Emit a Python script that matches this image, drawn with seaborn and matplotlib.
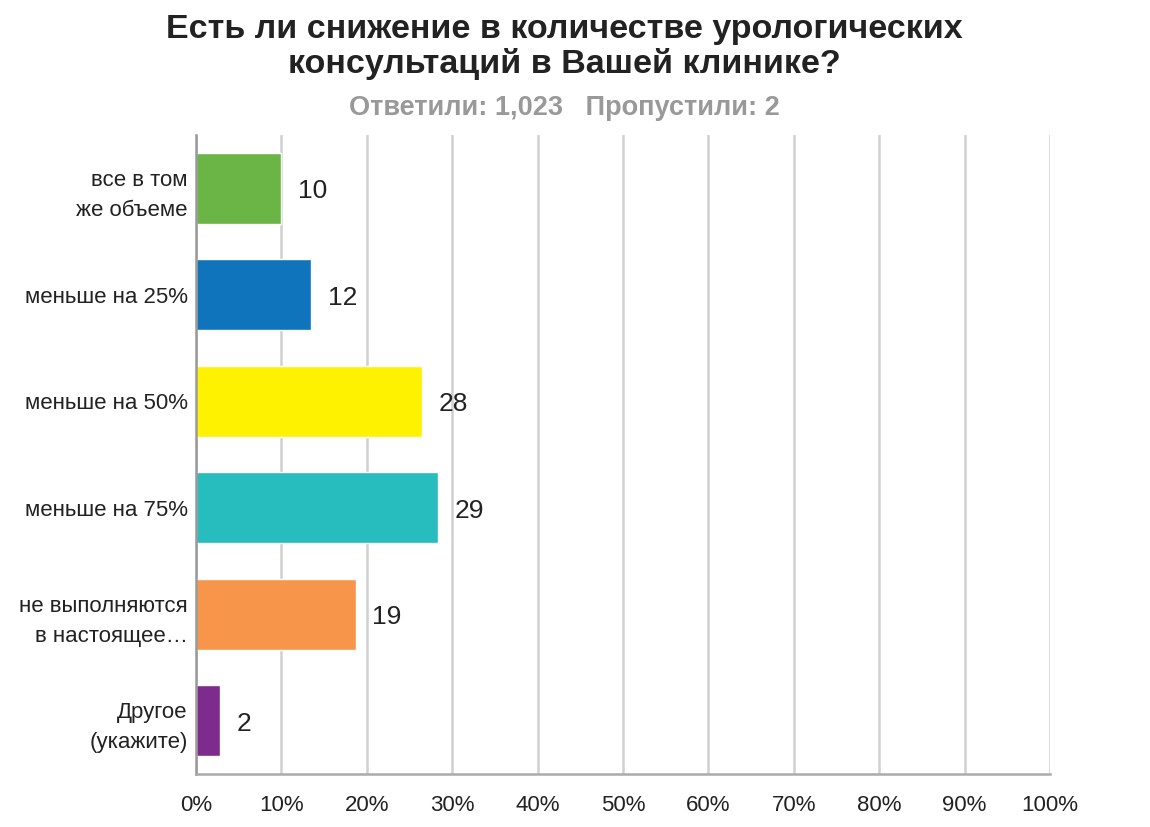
import matplotlib
matplotlib.use("Agg")
import matplotlib.pyplot as plt
import seaborn as sns
import pandas as pd

# Survey answers (bar lengths, labels as printed)
categories = [
    "все в том\nже объеме",
    "меньше на 25%",
    "меньше на 50%",
    "меньше на 75%",
    "не выполняются\nв настоящее…",
    "Другое\n(укажите)",
]
percent = [10.0, 13.5, 26.5, 28.3, 18.7, 2.8]
value_labels = ["10", "12", "28", "29", "19", "2"]
colors = ["#6ab545", "#1074bc", "#fff200", "#27bdbe", "#f7964a", "#7e2b8e"]
x_ticks = list(range(0, 101, 10))
x_tick_labels = [f"{t}%" for t in x_ticks]

title = "Есть ли снижение в количестве урологических\nконсультаций в Вашей клинике?"
subtitle = "Ответили: 1,023   Пропустили: 2"

sns.set_style("white")
plt.rcParams['font.family'] = ['Liberation Sans', 'DejaVu Sans']

df = pd.DataFrame({"category": categories, "percent": percent})

fig = plt.figure(figsize=(11.5, 8.27), dpi=100)
ax = fig.add_axes([196 / 1150, 1 - 774 / 827, 854 / 1150, 639 / 827])

sns.barplot(data=df, y="category", x="percent", hue="category",
            palette=colors, orient="h", width=0.67, legend=False,
            saturation=1, ax=ax)

ax.set_xlim(0, 100)
ax.set_ylim(len(categories) - 0.5, -0.5)
ax.set_xticks(x_ticks)
ax.set_xticklabels(x_tick_labels, fontsize=16, color="#222222")
ax.tick_params(axis="x", length=0, pad=15)
ax.tick_params(axis="y", length=0, pad=6)
for lbl in ax.get_yticklabels():
    lbl.set_fontsize(16)
    lbl.set_color("#222222")
    lbl.set_multialignment("right")
    lbl.set_linespacing(1.55)
ax.set_xlabel("")
ax.set_ylabel("")

ax.grid(axis="x", color="#d0d0d0", linewidth=1.8)
ax.set_axisbelow(True)
for side in ["top", "right"]:
    ax.spines[side].set_visible(False)
ax.spines["left"].set_color("#999999")
ax.spines["left"].set_linewidth(1.8)
ax.spines["bottom"].set_color("#aaaaaa")
ax.spines["bottom"].set_linewidth(1.8)

for i, (p, lab) in enumerate(zip(percent, value_labels)):
    ax.annotate(lab, xy=(p, i), xytext=(12, -2), textcoords="offset points",
                ha="left", va="center", fontsize=19, color="#222222")

fig.text(564 / 1150, 1 - 47 / 827, title, ha="center", va="center", fontsize=24.5,
         fontweight="bold", color="#222222", linespacing=1.1)
fig.text(564 / 1150, 1 - 108 / 827, subtitle, ha="center", va="center", fontsize=19.5,
         fontweight="bold", color="#999999")

fig.savefig("out.png", dpi=100, facecolor="white")
